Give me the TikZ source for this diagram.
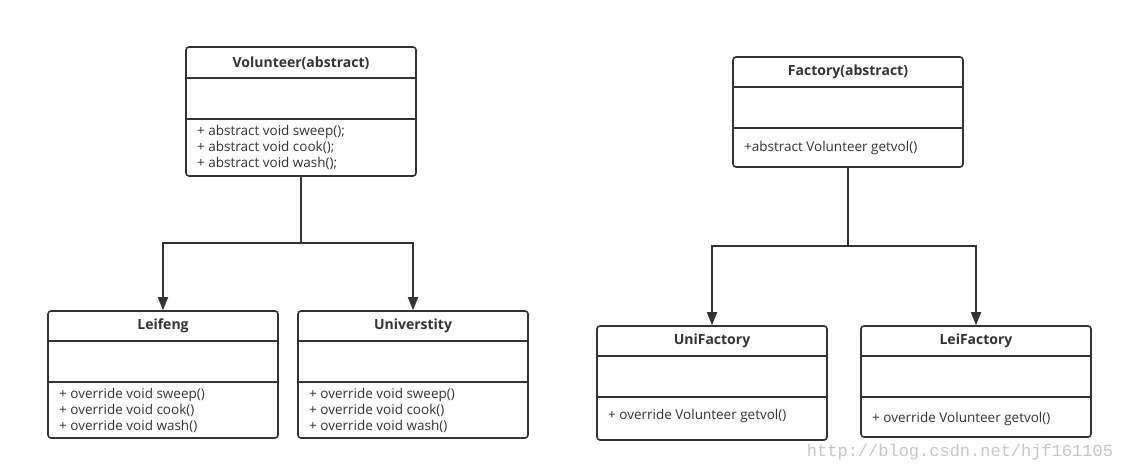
\documentclass[tikz,border=0pt]{standalone}
\usepackage{fontspec}
\setmainfont{Open Sans}
\newfontfamily\markfont{Liberation Mono}
\usepackage{xcolor}
\usetikzlibrary{positioning,arrows.meta}

\definecolor{umlline}{HTML}{333333}

\begin{document}
\begin{tikzpicture}[x=1pt, y=-1pt, >={Triangle[length=13pt,width=10pt]},
    umlbox/.style={draw=umlline, line width=1.6pt, rounded corners=3pt,
        minimum width=230pt, inner sep=0pt},
    umltitle/.style={font=\fontsize{14}{15}\selectfont\bfseries, text=umlline, inner sep=0pt},
    umlops/.style={font=\fontsize{13.5}{16}\selectfont, text=umlline, align=left,
        anchor=west, inner sep=0pt},
    divider/.style={draw=umlline, line width=1.6pt},
    inherit/.style={draw=umlline, line width=1.6pt, ->}]

\useasboundingbox (0,0) rectangle (1123,472);

% ===========================
% LEFT: Volunteer hierarchy
% ===========================

% Abstract class
\node[umlbox, minimum height=129pt] (vol) at (301,111.5) {};
\node[umltitle] (volT) at (301,63) {Volunteer(abstract)};
\draw[divider] (vol.west |- 0,78) -- (vol.east |- 0,78);
\draw[divider] (vol.west |- 0,119) -- (vol.east |- 0,119);
\node[umlops] (volM) at (197,147.5) {+ abstract void sweep();\\+ abstract void cook();\\+ abstract void wash();};

% Subclasses
\node[umlbox, minimum height=127pt] (lei) at (163,374.5) {};
\node[umltitle] (leiT) at (163,326) {Leifeng};
\draw[divider] (lei.west |- 0,341) -- (lei.east |- 0,341);
\draw[divider] (lei.west |- 0,382) -- (lei.east |- 0,382);
\node[umlops] (leiM) at (59,410.5) {+ override void sweep()\\+ override void cook()\\+ override void wash()};

\node[umlbox, minimum height=127pt] (uni) at (413,374.5) {};
\node[umltitle] (uniT) at (413,326) {Universtity};
\draw[divider] (uni.west |- 0,341) -- (uni.east |- 0,341);
\draw[divider] (uni.west |- 0,382) -- (uni.east |- 0,382);
\node[umlops] (uniM) at (309,410.5) {+ override void sweep()\\+ override void cook()\\+ override void wash()};

% Generalisation
\coordinate (volJ) at (301,243);
\draw[divider] (vol.south) -- (volJ);
\draw[inherit] (volJ) -| (lei.north);
\draw[inherit] (volJ) -| (uni.north);

% ===========================
% RIGHT: Factory hierarchy
% ===========================

% Abstract factory
\node[umlbox, minimum height=110pt] (fac) at (848,112) {};
\node[umltitle] (facT) at (848,72) {Factory(abstract)};
\draw[divider] (fac.west |- 0,87) -- (fac.east |- 0,87);
\draw[divider] (fac.west |- 0,128) -- (fac.east |- 0,128);
\node[umlops] (facM) at (744,148) {+abstract Volunteer getvol()};

% Concrete factories
\node[umlbox, minimum height=114pt] (unif) at (712,383) {};
\node[umltitle] (unifT) at (712,341) {UniFactory};
\draw[divider] (unif.west |- 0,356) -- (unif.east |- 0,356);
\draw[divider] (unif.west |- 0,397) -- (unif.east |- 0,397);
\node[umlops] (unifM) at (608,416) {+ override Volunteer getvol()};

\node[umlbox, minimum height=111pt] (leif) at (976,381.5) {};
\node[umltitle] (leifT) at (976,341) {LeiFactory};
\draw[divider] (leif.west |- 0,356) -- (leif.east |- 0,356);
\draw[divider] (leif.west |- 0,397) -- (leif.east |- 0,397);
\node[umlops] (leifM) at (872,419) {+ override Volunteer getvol()};

% Generalisation
\coordinate (facJ) at (848,246);
\draw[divider] (fac.south) -- (facJ);
\draw[inherit] (facJ) -| (unif.north);
\draw[inherit] (facJ) -| (leif.north);

% Watermark
\node[font=\markfont\fontsize{17}{17}\selectfont, text=black!22, inner sep=0pt] (mark) at (960,452) {http://blog.csdn.net/hjf161105};

\end{tikzpicture}
\end{document}
